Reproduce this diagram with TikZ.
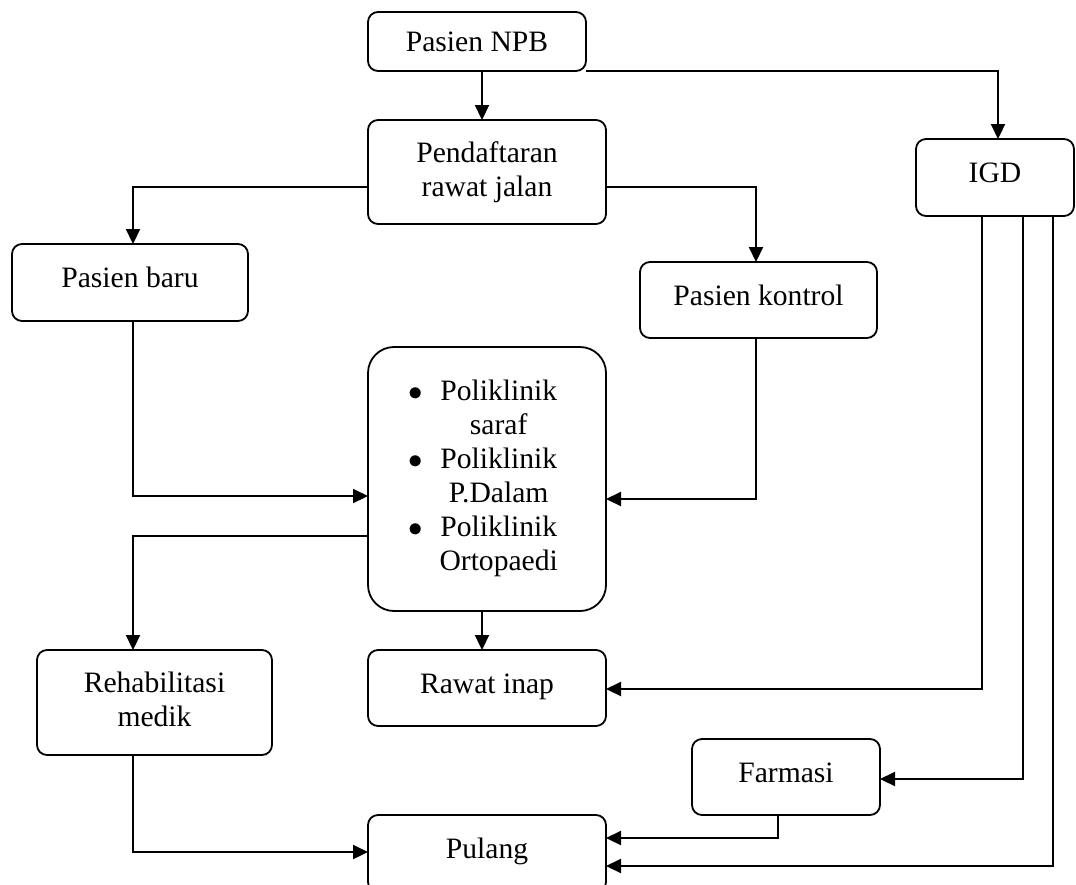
\documentclass[tikz,border=0pt]{standalone}
\usepackage{fontspec}
\setmainfont{Liberation Serif}
\usetikzlibrary{arrows.meta,calc}

\tikzset{
  box/.style={draw, line width=0.9pt, rounded corners=5pt, inner sep=0pt, outer sep=0pt,
    align=center, font=\fontsize{14.8pt}{17pt}\selectfont},
  oneline/.style={text height=10pt, text depth=5pt},
  link/.style={line width=1.1pt},
  arr/.style={link, -{Triangle[length=7.5pt,width=7pt]}}
}

\begin{document}
\begin{tikzpicture}[x=0.5pt, y=-0.5pt]
  \clip (0,0) rectangle (1076,884);
  \fill[white] (0,0) rectangle (1076,884);

  % boxes
  \node[box, minimum width=109pt, minimum height=29.5pt] (npb) at (477,41.5) {Pasien NPB};
  \node[box, minimum width=119pt, minimum height=52pt] (daftar) at (487,172) {Pendaftaran\\rawat jalan};
  \node[box, oneline, minimum width=118pt, minimum height=38.5pt] (baru) at (130,282.5) {Pasien baru};
  \node[box, oneline, minimum width=118.5pt, minimum height=38pt] (kontrol) at (758.5,300) {Pasien kontrol};
  \node[box, oneline, minimum width=79pt, minimum height=38.5pt] (igd) at (995,177.5) {IGD};
  \node[box, rounded corners=13pt, minimum width=119pt, minimum height=132pt] (poli) at (487,479)
    {\renewcommand{\arraystretch}{1}%
     \begin{tabular}{@{}c@{\hspace{8.5pt}}c@{\hspace{4pt}}}
       $\bullet$ & Poliklinik\\
                 & saraf\\
       $\bullet$ & Poliklinik\\
                 & P.Dalam\\
       $\bullet$ & Poliklinik\\
                 & Ortopaedi
     \end{tabular}};
  \node[box, minimum width=117.5pt, minimum height=52.5pt] (rehab) at (154.5,702.5) {Rehabilitasi\\medik\rule[-3pt]{0pt}{3pt}};
  \node[box, oneline, minimum width=119pt, minimum height=38pt] (rawat) at (487,688) {Rawat inap};
  \node[box, oneline, minimum width=94pt, minimum height=38pt] (farmasi) at (786,777) {Farmasi};
  \node[box, oneline, minimum width=119pt, minimum height=38.5pt] (pulang) at (487,853.5) {Pulang};

  % connectors
  \draw[arr] (482,0 |- npb.south) -- (482,0 |- daftar.north);
  \draw[arr] (npb.south east) -- (998,0 |- npb.south east) -- (998,0 |- igd.north);
  \draw[arr] (daftar.west |- 0,187) -- (133,187) -- (133,0 |- baru.north);
  \draw[arr] (daftar.east |- 0,187) -- (756,187) -- (756,0 |- kontrol.north);
  \draw[arr] (133,0 |- baru.south) -- (133,496) -- (poli.west |- 0,496);
  \draw[arr] (756,0 |- kontrol.south) -- (756,499) -- (poli.east |- 0,499);
  \draw[arr] (poli.west |- 0,536) -- (133,536) -- (133,0 |- rehab.north);
  \draw[arr] (482,0 |- poli.south) -- (482,0 |- rawat.north);
  \draw[arr] (133,0 |- rehab.south) -- (133,852) -- (pulang.west |- 0,852);
  \draw[arr] (982,0 |- igd.south) -- (982,689) -- (rawat.east |- 0,689);
  \draw[arr] (1023,0 |- igd.south) -- (1023,779) -- (farmasi.east |- 0,779);
  \draw[arr] (1053,0 |- igd.south) -- (1053,866) -- (pulang.east |- 0,866);
  \draw[arr] (778,0 |- farmasi.south) -- (778,838) -- (pulang.east |- 0,838);
\end{tikzpicture}
\end{document}
